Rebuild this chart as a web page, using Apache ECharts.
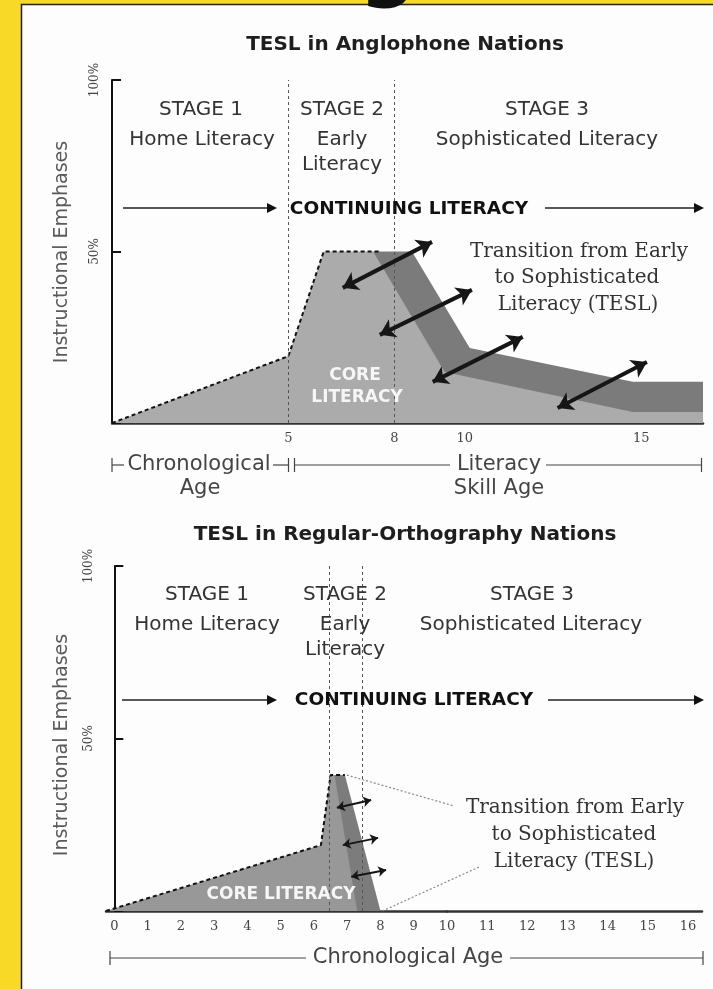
<!DOCTYPE html>
<html>
<head>
<meta charset="utf-8">
<script src="https://cdn.jsdelivr.net/npm/echarts@6/dist/echarts.min.js"></script>
<style>
html, body { margin: 0; padding: 0; background: #f8da26; }
#box { width: 713px; height: 989px; }
</style>
</head>
<body>
<div id="box"></div>
<script>
// ---- top chart: TESL in Anglophone Nations ----
var topTicks = [5, 8, 10, 15];
var topStageLines = [5, 8];
var topCore = [[0, 0], [5, 19.5], [6, 50], [7.4, 50], [9.43, 14.9], [14.76, 3.2], [16.75, 3.2]];
var topBand = [[7.4, 50], [8.5, 50], [10.14, 21.9], [14.76, 12], [16.75, 12]];
var topOutline = [[0, 0], [5, 19.5], [6, 50], [7.6, 50]];
var topArrows = [
    [[6.54, 39.4], [9.07, 52.8]],
    [[7.59, 25.7], [10.2, 38.8]],
    [[9.09, 12.0], [11.64, 25.1]],
    [[12.63, 4.4], [15.16, 17.8]]
];

// ---- bottom chart: TESL in Regular-Orthography Nations ----
var botTicksA = [0, 1, 2, 3, 4, 5, 6, 7, 8, 9, 10];
var botTicksB = [11, 12, 13, 14, 15, 16];
var botStageLines = [6.45, 7.45];
var botCore = [[-0.25, 0], [6.21, 19.1], [6.5, 39.4], [6.62, 39.4], [7.3, 0]];
var botBand = [[6.5, 39.4], [6.93, 39.4], [8, 0]];
var botOutline = [[-0.25, 0], [6.21, 19.1], [6.5, 39.4], [6.93, 39.4]];
var botArrows = [
    [[6.69, 29.9], [7.72, 32.2]],
    [[6.87, 19.1], [7.93, 21.2]],
    [[7.12, 9.9], [8.17, 11.9]]
];

var yTicks = [50, 100];

var sans = '"DejaVu Sans", sans-serif';
var serif = '"DejaVu Serif", serif';
var ink = '#333';

var myChart = echarts.init(document.getElementById('box'));

function yAxisOpt(grid) {
    return {
        type: 'value', gridIndex: grid, min: 0, max: 100, interval: 50,
        axisLine: { show: true, lineStyle: { color: '#111', width: 2 } },
        axisTick: { show: true, inside: true, length: 9, lineStyle: { color: '#111', width: 2 } },
        axisLabel: {
            rotate: 90, margin: 11, color: '#444', fontFamily: serif, fontSize: 12,
            formatter: function (v) { return yTicks.indexOf(v) >= 0 ? v + '%' : ''; }
        },
        splitLine: { show: false }
    };
}

function xAxisOpt(grid, min, max, ticks) {
    return {
        type: 'value', gridIndex: grid, min: min, max: max,
        axisLine: { lineStyle: { color: '#333', width: 2.5 } },
        axisTick: { show: false },
        splitLine: { show: false },
        axisLabel: { customValues: ticks, color: '#444', fontFamily: serif, fontSize: 13, margin: 9 }
    };
}

function area(data, color, xi) {
    return {
        type: 'line', xAxisIndex: xi, yAxisIndex: xi, data: data, symbol: 'none',
        lineStyle: { width: 0 }, areaStyle: { color: color, opacity: 1 }, silent: true
    };
}

function arrowLines(pairs, width, size) {
    return {
        silent: true, symbol: ['arrow', 'arrow'], symbolSize: size,
        label: { show: false },
        lineStyle: { color: '#161616', width: width, type: 'solid' },
        data: pairs.map(function (p) { return [{ coord: p[0] }, { coord: p[1] }]; })
    };
}

function stageLines(xs) {
    return {
        silent: true, symbol: 'none', label: { show: false },
        lineStyle: { color: '#555', width: 1, type: [3, 3] },
        data: xs.map(function (x) { return { xAxis: x }; })
    };
}

myChart.setOption({
    animation: false,
    grid: [
        { left: 112, top: 80, width: 591, height: 343 },
        { left: 106, top: 566, width: 341, height: 345 },
        { left: 447, top: 566, width: 255, height: 345 }
    ],
    xAxis: [
        xAxisOpt(0, 0, 16.75, topTicks),
        xAxisOpt(1, -0.25, 10, botTicksA),
        xAxisOpt(2, 10, 16.35, botTicksB)
    ],
    yAxis: [
        yAxisOpt(0),
        yAxisOpt(1),
        { type: 'value', gridIndex: 2, min: 0, max: 100, show: false }
    ],
    series: [
        area(topBand, '#7b7b7b', 0),
        area(topCore, '#ababab', 0),
        {
            type: 'line', xAxisIndex: 0, yAxisIndex: 0, data: topOutline, symbol: 'none', silent: true,
            lineStyle: { color: '#111', width: 2, type: [4, 3] },
            markLine: stageLines(topStageLines)
        },
        {
            type: 'line', xAxisIndex: 0, yAxisIndex: 0, data: [], symbol: 'none',
            markLine: arrowLines(topArrows, 4, 15)
        },
        area(botBand, '#7c7c7c', 1),
        area(botCore, '#989898', 1),
        {
            type: 'line', xAxisIndex: 1, yAxisIndex: 1, data: botOutline, symbol: 'none', silent: true,
            lineStyle: { color: '#111', width: 2, type: [4, 3] },
            markLine: stageLines(botStageLines)
        },
        {
            type: 'line', xAxisIndex: 1, yAxisIndex: 1, data: [], symbol: 'none',
            markLine: arrowLines(botArrows, 2, 8)
        }
    ]
});

/* annotations */
function txt(text, x, y, font, color, rot) {
    return {
        type: 'text', x: x, y: y, rotation: rot || 0, z: 100, silent: true,
        style: { text: text, align: 'center', verticalAlign: 'middle', font: font, fill: color || ink }
    };
}
function seg(x1, y1, x2, y2, w, color, dash) {
    return {
        type: 'line', z: 100, silent: true,
        shape: { x1: x1, y1: y1, x2: x2, y2: y2 },
        style: { stroke: color || '#333', lineWidth: w || 1.2, lineDash: dash || null }
    };
}
function head(x, y) {
    return {
        type: 'polygon', z: 100, silent: true,
        shape: { points: [[x - 10, y - 5], [x, y], [x - 10, y + 5]] },
        style: { fill: '#111' }
    };
}
function tick(x, y) { return seg(x, y - 7, x, y + 7, 1.2, '#444'); }

var stageFont = '20px ' + sans;
var brFont = '21px ' + sans;
var boldFont = 'bold 18.5px ' + sans;
var titleFont = 'bold 20px ' + sans;
var tesFont = '20px ' + serif;

var g = [
    { type: 'rect', z: -1, silent: true, shape: { x: 21.5, y: 4.5, width: 700, height: 1000 },
      style: { fill: '#fdfdfd', stroke: '#222', lineWidth: 1.5 } },
    txt('g', 388, -30, 'bold 80px ' + sans, '#111'),

    // top chart texts
    txt('TESL in Anglophone Nations', 405, 45, titleFont, '#1e1e1e'),
    txt('STAGE 1', 201, 110, stageFont), txt('Home Literacy', 202, 140, stageFont),
    txt('STAGE 2', 342, 110, stageFont), txt('Early', 342, 140, stageFont), txt('Literacy', 342, 165, stageFont),
    txt('STAGE 3', 547, 110, stageFont), txt('Sophisticated Literacy', 547, 140, stageFont),
    seg(123, 208, 270, 208, 1.3, '#222'), head(277, 208),
    txt('CONTINUING LITERACY', 409, 209, boldFont, '#111'),
    seg(545, 208, 697, 208, 1.3, '#222'), head(704, 208),
    txt('Transition from Early', 579, 252, tesFont), txt('to Sophisticated', 577, 278, tesFont),
    txt('Literacy (TESL)', 578, 305, tesFont),
    txt('CORE', 355, 376, 'bold 17px ' + sans, '#f6f6f6'),
    txt('LITERACY', 357, 398, 'bold 17px ' + sans, '#f6f6f6'),
    txt('Instructional Emphases', 62, 252, '19px ' + sans, '#5a5a5a', Math.PI / 2),
    tick(112, 465), seg(112, 465, 124, 465, 1.2, '#444'),
    txt('Chronological', 199, 465, brFont, '#444'),
    seg(273, 465, 288, 465, 1.2, '#444'), tick(288.5, 465), tick(294.5, 465),
    seg(295, 465, 450, 465, 1.2, '#444'),
    txt('Literacy', 499, 465, brFont, '#444'),
    seg(546, 465, 701.5, 465, 1.2, '#444'), tick(701.5, 465),
    txt('Age', 200, 489, brFont, '#444'), txt('Skill Age', 499, 489, brFont, '#444'),

    // bottom chart texts
    txt('TESL in Regular-Orthography Nations', 405, 535, titleFont, '#1e1e1e'),
    txt('STAGE 1', 207, 595, stageFont), txt('Home Literacy', 207, 625, stageFont),
    txt('STAGE 2', 345, 595, stageFont), txt('Early', 345, 625, stageFont), txt('Literacy', 345, 650, stageFont),
    txt('STAGE 3', 532, 595, stageFont), txt('Sophisticated Literacy', 531, 625, stageFont),
    seg(122, 700, 270, 700, 1.3, '#222'), head(277, 700),
    txt('CONTINUING LITERACY', 414, 700, boldFont, '#111'),
    seg(548, 700, 697, 700, 1.3, '#222'), head(704, 700),
    txt('Transition from Early', 575, 808, tesFont), txt('to Sophisticated', 574, 835, tesFont),
    txt('Literacy (TESL)', 574, 862, tesFont),
    txt('CORE LITERACY', 281, 895, 'bold 17px ' + sans, '#f6f6f6'),
    txt('Instructional Emphases', 62, 745, '19px ' + sans, '#5a5a5a', Math.PI / 2),
    tick(110, 958), seg(110, 958, 306, 958, 1.2, '#444'),
    txt('Chronological Age', 408, 958, brFont, '#444'),
    seg(510, 958, 703, 958, 1.2, '#444'), tick(703, 958)
];

// dotted leaders from the TESL wedge to its caption
var peak = myChart.convertToPixel({ seriesIndex: 6 }, botOutline[botOutline.length - 1]);
var foot = myChart.convertToPixel({ seriesIndex: 6 }, botBand[botBand.length - 1]);
g.push(seg(peak[0] + 2, peak[1], 454, 806, 1.2, '#888', [2, 2]));
g.push(seg(foot[0] + 2, foot[1], 479, 867, 1.2, '#888', [2, 2]));

myChart.setOption({ graphic: g });

window.addEventListener('resize', function () {
    myChart.resize();
});
</script>
</body>
</html>
